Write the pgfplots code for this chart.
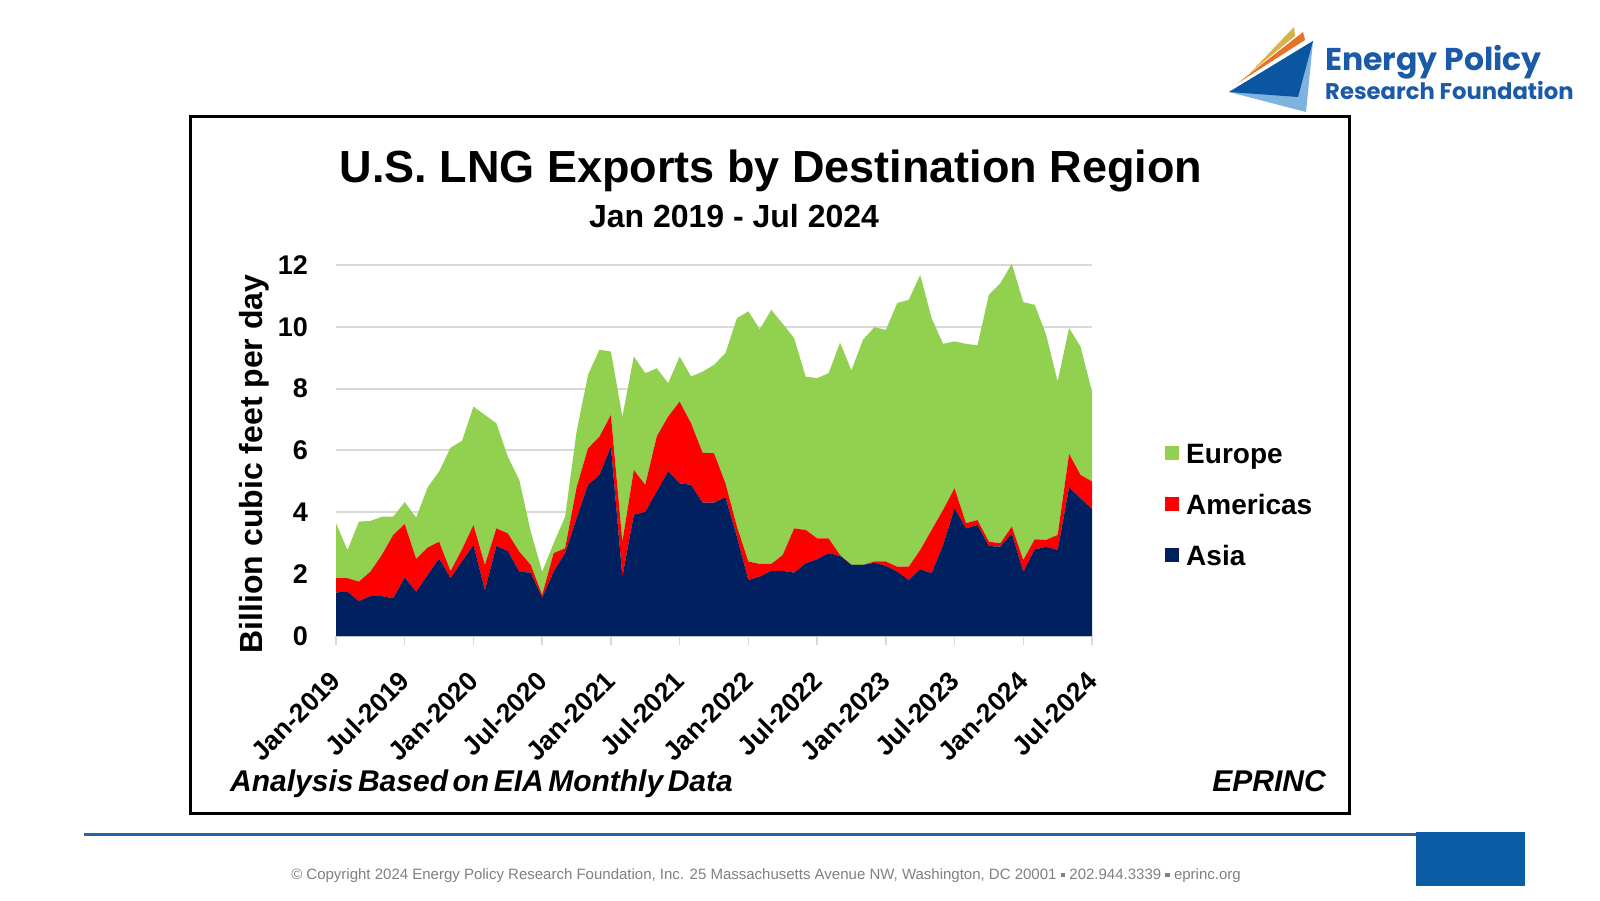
\documentclass[border=0pt]{standalone}
\usepackage{fontspec}
\setmainfont{Liberation Sans}
\newfontfamily\poppins{Poppins}
\usepackage{pgfplots}
\usepackage{pgfplotstable}
\pgfplotsset{compat=1.18}
\definecolor{asia}{HTML}{002060}
\definecolor{amer}{HTML}{FF0000}
\definecolor{eur}{HTML}{92D050}
\definecolor{gridc}{HTML}{D9D9D9}
\definecolor{logoblue}{HTML}{1B5AA6}
\definecolor{darkblue}{HTML}{0B56A0}
\definecolor{lightblue}{HTML}{7FB3DF}
\definecolor{logoorange}{HTML}{E8702A}
\definecolor{logogold}{HTML}{D6B444}
\definecolor{footblue}{HTML}{2B63A8}
\definecolor{rectblue}{HTML}{0B5BA5}

\pgfplotstableread{
i asia amer eur
0 1.41 0.46 1.78
1 1.43 0.44 0.91
2 1.13 0.63 1.94
3 1.29 0.79 1.64
4 1.29 1.33 1.24
5 1.22 2.05 0.59
6 1.89 1.73 0.71
7 1.43 1.06 1.34
8 1.97 0.89 1.95
9 2.51 0.54 2.27
10 1.87 0.23 3.99
11 2.41 0.39 3.51
12 2.94 0.65 3.83
13 1.49 0.81 4.85
14 2.91 0.57 3.40
15 2.75 0.57 2.48
16 2.08 0.65 2.32
17 2.05 0.25 1.08
18 1.24 0.09 0.75
19 2.08 0.60 0.32
20 2.68 0.16 1.02
21 3.80 1.00 1.80
22 4.89 1.18 2.38
23 5.21 1.24 2.81
24 6.13 1.02 2.05
25 1.92 1.13 4.05
26 3.92 1.45 3.67
27 4.02 0.87 3.61
28 4.67 1.78 2.21
29 5.32 1.78 1.08
30 4.94 2.64 1.46
31 4.89 1.99 1.51
32 4.31 1.62 2.62
33 4.31 1.60 2.86
34 4.49 0.45 4.21
35 3.21 0.33 6.74
36 1.81 0.60 8.09
37 1.92 0.41 7.59
38 2.11 0.22 8.22
39 2.11 0.51 7.48
40 2.05 1.43 6.15
41 2.35 1.08 4.96
42 2.48 0.68 5.18
43 2.68 0.48 5.34
44 2.59 0.03 6.87
45 2.30 0.00 6.29
46 2.30 0.00 7.28
47 2.37 0.04 7.58
48 2.27 0.14 7.49
49 2.08 0.16 8.53
50 1.81 0.43 8.63
51 2.16 0.62 8.90
52 2.03 1.40 6.85
53 2.94 1.14 5.37
54 4.13 0.65 4.75
55 3.48 0.17 5.80
56 3.59 0.16 5.65
57 2.91 0.14 7.99
58 2.89 0.11 8.41
59 3.32 0.22 8.50
60 2.08 0.38 8.34
61 2.80 0.33 7.58
62 2.89 0.22 6.63
63 2.78 0.49 4.96
64 4.81 1.08 4.07
65 4.45 0.76 4.15
66 4.10 0.90 2.90
}\lngdata

\begin{document}
\begin{tikzpicture}
\path[use as bounding box] (0pt,0pt) rectangle (1600pt,900pt);
\fill[white] (0pt,0pt) rectangle (1600pt,900pt);
\begin{scope}[x=1pt,y=1pt]
% frame
\draw[line width=3pt] (190,783) rectangle (1349,87);
% titles
\node[anchor=base, font=\bfseries\fontsize{45}{45}\selectfont, inner sep=0pt] at (771,717) {U.S. LNG Exports by Destination Region};
\node[anchor=base, font=\bfseries\fontsize{32}{32}\selectfont, inner sep=0pt] at (734,672) {Jan 2019 - Jul 2024};
% y label
\node[rotate=90, anchor=base, font=\bfseries\fontsize{32}{32}\selectfont, inner sep=0pt] at (262,436) {Billion cubic feet per day};
% notes
\node[anchor=base west, font=\bfseries\itshape\fontsize{30}{30}\selectfont, inner sep=0pt] at (230,109) {\spaceskip=0.15em Analysis Based on EIA Monthly Data};
\node[anchor=base east, font=\bfseries\itshape\fontsize{30}{30}\selectfont, inner sep=0pt] at (1326,109) {EPRINC};
% footer
\draw[footblue, line width=3pt] (84,66) -- (1416,66);
\fill[rectblue] (1416,68) rectangle (1525,14);
\node[anchor=base, font=\fontsize{15}{15}\selectfont, text=black!50, inner sep=0pt] at (766,21) {© Copyright 2024 Energy Policy Research Foundation, Inc. 25 Massachusetts Avenue NW, Washington, DC 20001 \raisebox{0.2ex}{\rule{0.3em}{0.3em}} 202.944.3339 \raisebox{0.2ex}{\rule{0.3em}{0.3em}} eprinc.org};
% logo
\fill[lightblue] (1229,808) -- (1313,859) -- (1306,788) -- cycle;
\fill[darkblue] (1229,808) -- (1313,859) -- (1298,803) -- cycle;
\fill[logoorange] (1238,817) -- (1303,868) -- (1305,860) -- cycle;
\fill[logogold] (1250,827) -- (1294,873) -- (1295,864) -- cycle;
\node[anchor=base west, font=\poppins\bfseries\fontsize{31.5}{31.5}\selectfont, text=logoblue, inner sep=0pt] at (1325,829) {Energy Policy};
\node[anchor=base west, font=\poppins\bfseries\fontsize{22.7}{22.7}\selectfont, text=logoblue, inner sep=0pt] at (1325,800) {Research Foundation};
\end{scope}

\begin{axis}[
  at={(336pt,264pt)}, anchor=south west,
  scale only axis, width=756pt, height=371pt,
  xmin=0, xmax=66, ymin=0, ymax=12,
  stack plots=y,
  axis x line*=bottom, axis y line*=left,
  y axis line style={draw=none},
  x axis line style={draw=gridc, line width=2pt, -},
  ytick={0,2,...,12},
  xtick={0,6,...,66},
  xticklabels={Jan-2019,Jul-2019,Jan-2020,Jul-2020,Jan-2021,Jul-2021,Jan-2022,Jul-2022,Jan-2023,Jul-2023,Jan-2024,Jul-2024},
  ytick style={draw=none},
  xtick style={draw=gridc, line width=1.5pt},
  tick align=outside, major tick length=9pt,
  ymajorgrids, major grid style={draw=gridc, line width=2pt},
  /pgf/number format/assume math mode=true,
  yticklabel style={font=\bfseries\fontsize{27}{27}\selectfont, inner sep=0pt, anchor=east},
  yticklabel shift=19pt,
  xticklabel style={font=\bfseries\fontsize{26.5}{26.5}\selectfont, inner sep=0pt, anchor=east, rotate=45},
  xticklabel shift=31pt,
  legend cell align=left,
  reverse legend,
  legend image code/.code={\fill[#1] (0pt,-4pt) rectangle (14pt,10pt);},
  legend style={at={(1.0966,0.3477)}, anchor=west, draw=none, fill=none, inner sep=0pt,
    row sep=25pt, font=\bfseries\fontsize{28}{28}\selectfont,
    nodes={inner sep=0pt, text height=20pt, text depth=6pt},
    /tikz/every odd column/.append style={column sep=7pt}},
]
\addplot[fill=asia, draw=none] table[x=i, y=asia]{\lngdata} \closedcycle;
\addlegendentry{Asia}
\addplot[fill=amer, draw=none] table[x=i, y=amer]{\lngdata} \closedcycle;
\addlegendentry{Americas}
\addplot[fill=eur, draw=none] table[x=i, y=eur]{\lngdata} \closedcycle;
\addlegendentry{Europe}
\end{axis}
\end{tikzpicture}
\end{document}
